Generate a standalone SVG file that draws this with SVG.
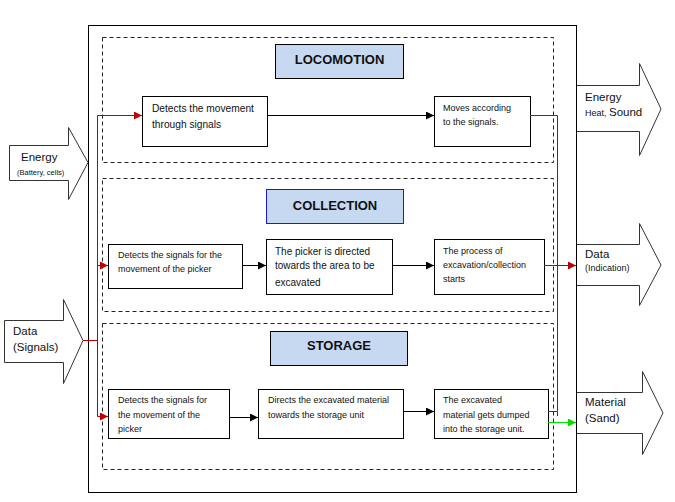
<svg xmlns="http://www.w3.org/2000/svg" width="675" height="502" viewBox="0 0 675 502">
<defs>
<marker id="ab" viewBox="0 0 8 8" refX="8" refY="4" markerWidth="8" markerHeight="8" markerUnits="userSpaceOnUse" orient="auto"><path d="M0,0 L8,4 L0,8 z" fill="#000"/></marker>
<marker id="ar" viewBox="0 0 8 8" refX="8" refY="4" markerWidth="8" markerHeight="8" markerUnits="userSpaceOnUse" orient="auto"><path d="M0,0 L8,4 L0,8 z" fill="#c00000"/></marker>
<marker id="ag" viewBox="0 0 8 8" refX="8" refY="4" markerWidth="8" markerHeight="8" markerUnits="userSpaceOnUse" orient="auto"><path d="M0,0 L8,4 L0,8 z" fill="#00e000"/></marker>
</defs>
<style>
text{font-family:"Liberation Sans",Arial,sans-serif;fill:#111}
.box{fill:#fff;stroke:#000;stroke-width:1}
.dash{fill:none;stroke:#222;stroke-width:1;stroke-dasharray:4,3}
.title{fill:#c6d9f1;stroke:#000;stroke-width:1}
.tt{font-weight:bold;font-size:13px;text-anchor:middle}
.s8{font-size:9px}
.s10{font-size:10px}
.big{font-size:11.5px}
.sm{font-size:7.5px}
.arrow{fill:#fff;stroke:#333;stroke-width:1}
.cb{fill:none;stroke:#000;stroke-width:1}
.cr{fill:none;stroke:#c00000;stroke-width:1}
.cg{fill:none;stroke:#00e000;stroke-width:1}
</style>
<rect width="675" height="502" fill="#fff"/>
<g id="outer"><rect x="88.5" y="25.5" width="488" height="467" fill="none" stroke="#000" stroke-width="1"/></g>

<g id="locomotion">
<rect class="dash" x="102.5" y="37.5" width="451" height="125"/>
<rect class="title" x="275.5" y="44.5" width="128" height="34"/>
<text class="tt" x="339.5" y="64">LOCOMOTION</text>
</g>
<g id="collection">
<rect class="dash" x="102.5" y="178.5" width="451" height="133"/>
<rect x="266.5" y="189.5" width="137" height="34" fill="#c6d9f1" stroke="#1a1adf" stroke-width="1"/>
<text class="tt" x="335" y="210">COLLECTION</text>
</g>
<g id="storage">
<rect class="dash" x="102.5" y="323.5" width="451" height="146"/>
<rect class="title" x="270.5" y="331.5" width="137" height="34"/>
<text class="tt" x="339" y="350">STORAGE</text>
</g>

<g id="loc1"><rect class="box" x="142.5" y="96.5" width="125" height="50"/>
<text x="152" y="112" style="font-size:10.2px">Detects the movement</text><text x="152" y="128" style="font-size:10.2px">through signals</text></g>
<g id="loc2"><rect class="box" x="434.5" y="96.5" width="96" height="50"/>
<text class="s8" x="443" y="111">Moves according</text><text class="s8" x="443" y="125">to the signals.</text></g>

<g id="col1"><rect class="box" x="108.5" y="244.5" width="134" height="44"/>
<text class="s8" x="118" y="258">Detects the signals for the</text><text class="s8" x="118" y="272">movement of the picker</text></g>
<g id="col2"><rect class="box" x="266.5" y="239.5" width="126" height="55"/>
<text class="s10" x="275" y="255">The picker is directed</text><text class="s10" x="275" y="269">towards the area to be</text><text class="s10" x="275" y="286">excavated</text></g>
<g id="col3"><rect class="box" x="434.5" y="239.5" width="110" height="55"/>
<text class="s8" x="443" y="254">The process of</text><text class="s8" x="443" y="268">excavation/collection</text><text class="s8" x="443" y="282">starts</text></g>

<g id="sto1"><rect class="box" x="108.5" y="389.5" width="121" height="49"/>
<text class="s8" x="118" y="403">Detects the signals for</text><text class="s8" x="118" y="418">the movement of the</text><text class="s8" x="118" y="432">picker</text></g>
<g id="sto2"><rect class="box" x="258.5" y="389.5" width="145" height="49"/>
<text class="s8" x="268" y="403">Directs the excavated material</text><text class="s8" x="268" y="418">towards the storage unit</text></g>
<g id="sto3"><rect class="box" x="434.5" y="389.5" width="114" height="49"/>
<text class="s8" x="443" y="403">The excavated</text><text class="s8" x="443" y="418">material gets dumped</text><text class="s8" x="443" y="432">into the storage unit.</text></g>

<g id="in-energy"><path class="arrow" d="M9.5,145.5 H68.5 V127.5 L88,162.5 L68.5,199.5 V180.5 H9.5 Z"/>
<text class="big" x="21" y="161">Energy</text><text class="sm" x="17" y="175">(Battery, cells)</text></g>
<g id="in-data"><path class="arrow" d="M4.5,320.5 H63.5 V299.5 L83,340.5 L63.5,383.5 V362.5 H4.5 Z"/>
<text class="big" x="13" y="335">Data</text><text class="big" x="13" y="351">(Signals)</text></g>
<g id="out-energy"><path class="arrow" d="M577,85.5 H639.5 V63.5 L661,109 L639.5,155.5 V131.5 H577"/>
<text class="big" x="585" y="101">Energy</text><text x="585" y="116"><tspan class="s8">Heat, </tspan><tspan class="big">Sound</tspan></text></g>
<g id="out-data"><path class="arrow" d="M577,244.5 H639.5 V223.5 L661,265 L639.5,305.5 V285.5 H577"/>
<text class="big" x="585" y="258">Data</text><text class="s8" x="585" y="271">(Indication)</text></g>
<g id="out-material"><path class="arrow" d="M577,392.5 H642.5 V371.5 L663,413 L642.5,454.5 V433.5 H577"/>
<text class="big" x="585" y="406">Material</text><text class="big" x="585" y="422">(Sand)</text></g>

<g id="connectors">
<path class="cr" d="M83,340.5 H97.5"/>
<path class="cr" d="M97.5,115.5 V416.5"/>
<path class="cr" d="M97.5,115.5 H142" marker-end="url(#ar)"/>
<path class="cr" d="M97.5,265.5 H108" marker-end="url(#ar)"/>
<path class="cr" d="M97.5,416.5 H108" marker-end="url(#ar)"/>
<path class="cb" d="M267,115.5 H434" marker-end="url(#ab)"/>
<path class="cr" d="M530,115.5 H557.5 V411.5 H548"/>
<path class="cr" d="M557.5,411.5 V416"/>
<path class="cb" d="M242,265.5 H266" marker-end="url(#ab)"/>
<path class="cb" d="M392,265.5 H434" marker-end="url(#ab)"/>
<path class="cr" d="M544,265.5 H576" marker-end="url(#ar)"/>
<path class="cb" d="M229,417.5 H258" marker-end="url(#ab)"/>
<path class="cb" d="M403,411.5 H434" marker-end="url(#ab)"/>
<path class="cg" d="M548,422.5 H576" marker-end="url(#ag)"/>
</g>
</svg>
